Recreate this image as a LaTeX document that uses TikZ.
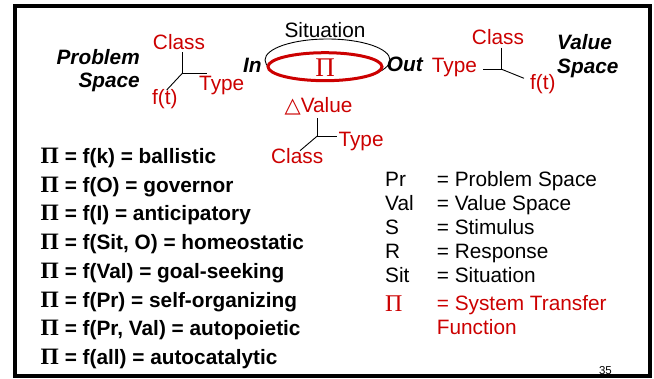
\documentclass[tikz,border=0pt]{standalone}
\usepackage{fontspec}
\setmainfont{Liberation Sans}
\newfontfamily\pifont{Liberation Serif}
\newfontfamily\symfont{DejaVu Sans}
\definecolor{mred}{RGB}{204,0,0}
\newcommand{\eqpi}{{\pifont\fontsize{23.5}{24}\selectfont Π}}
\begin{document}
\begin{tikzpicture}[x=1pt,y=-1pt,
  txt/.style={inner sep=0pt, font=\fontsize{20.8}{24}\selectfont},
  bi/.style={inner sep=0pt, font=\fontsize{20.8}{24}\selectfont\bfseries\itshape},
  rt/.style={txt, text=mred},
  eq/.style={inner sep=0pt, anchor=base west, font=\fontsize{20.8}{24}\selectfont\bfseries},
  lg/.style={txt, anchor=base west},
  tree/.style={line width=0.9pt, black}]
\useasboundingbox (0,0) rectangle (654,378);
\fill[white] (0,0) rectangle (654,378);
% frame
\draw[line width=4pt] (14.7,6) rectangle (649.5,376.3);

% Problem space
\node[bi, anchor=base east] (ps1) at (140,64) {Problem};
\node[bi, anchor=base east] (ps2) at (140,87.3) {Space};

% left tree
\coordinate (lj) at (182.3,73.3);
\coordinate (lt) at (182.3,52);
\coordinate (lr) at (206.7,73.3);
\coordinate (ld) at (166.7,90);
\draw[tree] (lt) -- (lj) -- (lr);
\draw[tree] (lj) -- (ld);
\node[rt, anchor=base] (lclass) at (179,49) {Class};
\node[rt, anchor=base west] (ltype) at (199,90.7) {Type};
\node[rt, anchor=base west] (lft) at (152,104) {f(t)};

% ellipses
\draw[line width=0.9pt] (327.5,60) ellipse [x radius=62.5, y radius=21];
\draw[mred, line width=3pt, fill=white] (325,66.7) ellipse [x radius=57, y radius=14];
\node[inner sep=0pt, text=mred, font=\fontsize{27}{30}\selectfont\pifont, anchor=base] (pi) at (325,76) {Π};
\node[txt, anchor=base] (sit) at (325,37.3) {Situation};
\node[bi, anchor=base west] (in) at (243,72) {In};
\node[bi, anchor=base west] (out) at (386.7,71.7) {Out};

% right tree
\coordinate (rj) at (501.7,69.3);
\coordinate (rt) at (501.7,47.7);
\coordinate (rl) at (483,69.3);
\coordinate (rd) at (524,78.3);
\draw[tree] (rt) -- (rj) -- (rl);
\draw[tree] (rj) -- (rd);
\node[rt, anchor=base west] (rtype) at (431.7,72) {Type};
\node[rt, anchor=base] (rclass) at (498,44) {Class};
\node[rt, anchor=base west] (rft) at (530,89.5) {f(t)};
\node[bi, anchor=base west] (vs1) at (557,49.3) {Value};
\node[bi, anchor=base west] (vs2) at (557,73) {Space};

% middle tree
\coordinate (mj) at (317.3,136);
\coordinate (mt) at (317.3,118.3);
\coordinate (mr) at (337.3,136);
\coordinate (md) at (300,150.7);
\draw[tree] (mt) -- (mj) -- (mr);
\draw[tree] (mj) -- (md);
\node[rt, anchor=base east] (mval) at (352.7,112.7) {{\symfont\fontsize{21}{22}\selectfont △}Value};
\node[rt, anchor=base west] (mtype) at (338.3,146.7) {Type};
\node[rt, anchor=base west] (mclass) at (271,163.3) {Class};

% equations
\node[eq] (eq1) at (40.5,163.3) {\eqpi{} = f(k) = ballistic};
\node[eq] (eq2) at (40.5,192) {\eqpi{} = f(O) = governor};
\node[eq] (eq3) at (40.5,220.7) {\eqpi{} = f(I) = anticipatory};
\node[eq] (eq4) at (40.5,249.3) {\eqpi{} = f(Sit, O) = homeostatic};
\node[eq] (eq5) at (40.5,278.2) {\eqpi{} = f(Val) = goal-seeking};
\node[eq] (eq6) at (40.5,307) {\eqpi{} = f(Pr) = self-organizing};
\node[eq] (eq7) at (40.5,335.7) {\eqpi{} = f(Pr, Val) = autopoietic};
\node[eq] (eq8) at (40.5,364.3) {\eqpi{} = f(all) = autocatalytic};

% legend
\node[lg] (a1) at (385,186) {Pr};
\node[lg] (b1) at (436.7,186) {= Problem Space};
\node[lg] (a2) at (385,210.7) {Val};
\node[lg] (b2) at (436.7,210.7) {= Value Space};
\node[lg] (a3) at (385,234) {S};
\node[lg] (b3) at (436.7,234) {= Stimulus};
\node[lg] (a4) at (385,258.3) {R};
\node[lg] (b4) at (436.7,258.3) {= Response};
\node[lg] (a5) at (385,282.7) {Sit};
\node[lg] (b5) at (436.7,282.7) {= Situation};
\node[inner sep=0pt, anchor=base west, text=mred, font=\fontsize{24}{26}\selectfont\pifont] (a6) at (385,311.5) {Π};
\node[lg, text=mred] (b6) at (436.7,310.7) {= System Transfer};
\node[lg, text=mred] (b7) at (436.7,334.5) {Function};

\node[inner sep=0pt, anchor=base east, font=\fontsize{11.5}{13}\selectfont] (pg) at (612,374.5) {35};
\end{tikzpicture}
\end{document}
